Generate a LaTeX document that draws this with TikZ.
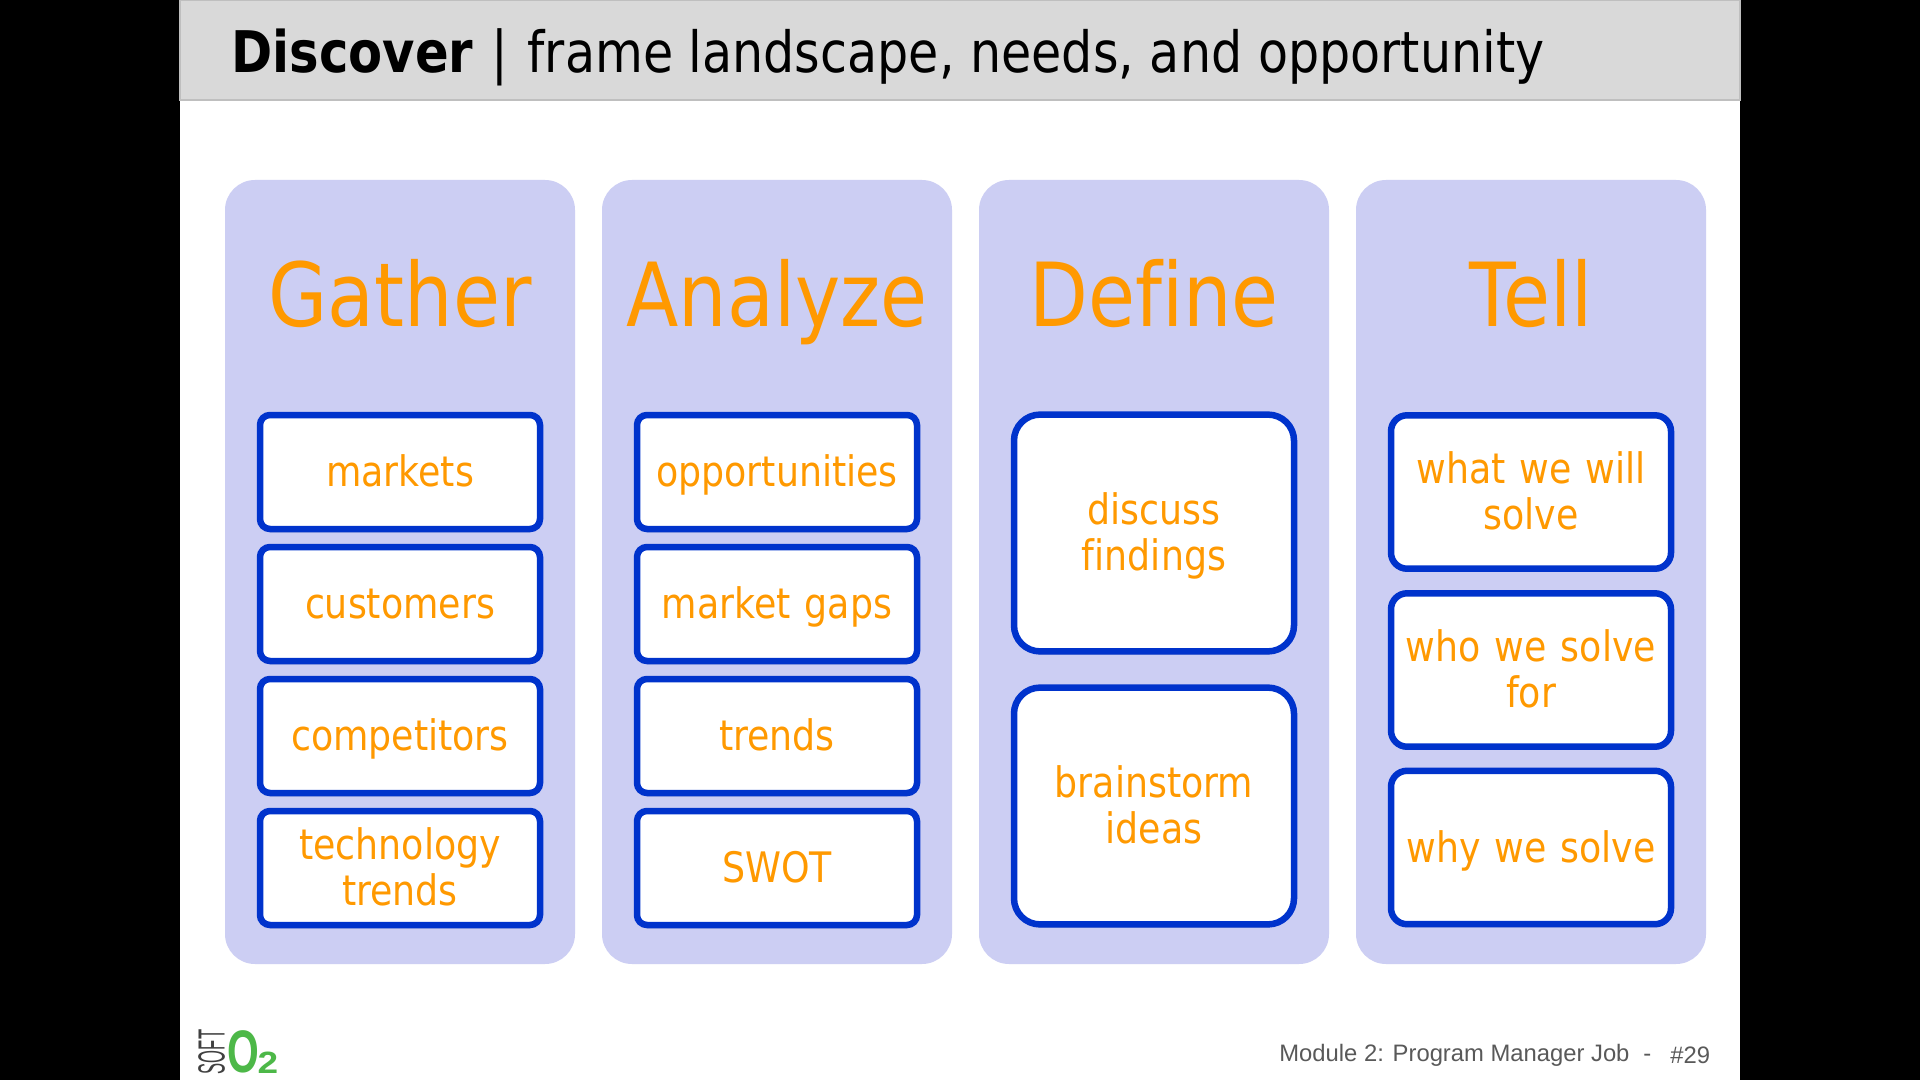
\documentclass[tikz,border=0pt]{standalone}
\usepackage{xcolor}
\usepackage{fontspec}
\usetikzlibrary{shadows}
\setmainfont{DejaVu Sans}[FakeStretch=0.865,Ligatures=NoCommon]
\newfontfamily\footfont{Liberation Sans}
\definecolor{panelblue}{HTML}{CCCEF3}
\definecolor{cardblue}{HTML}{0033CC}
\definecolor{textorange}{HTML}{FF9900}
\definecolor{bargray}{HTML}{D9D9D9}
\definecolor{barline}{HTML}{BFBFBF}
\definecolor{logogreen}{HTML}{4DB848}
\definecolor{logogray}{HTML}{404040}
\definecolor{footgray}{HTML}{595959}

\begin{document}
\begin{tikzpicture}[x=0.5pt,y=-0.5pt,
            panel/.style={rectangle,rounded corners=15pt,fill=panelblue,minimum width=175pt,minimum height=392pt,inner sep=0pt},
            heading/.style={anchor=base,text=textorange,font=\fontsize{44.2}{50}\selectfont,inner sep=0pt},
            card/.style={rectangle,draw=cardblue,line width=3.25pt,fill=white,text=textorange,
                align=center,text width=136pt,inner sep=0pt,outer sep=0pt,minimum width=140pt,
                font=\fontsize{21}{23.2}\selectfont,
                execute at begin node={\rule{0pt}{21.5pt}},execute at end node=\strut,
                drop shadow={shadow xshift=0pt,shadow yshift=-1.5pt,opacity=0.3,fill=black}},
            small/.style={card,rounded corners=5pt,minimum height=57pt},
            mid/.style={card,rounded corners=8pt,minimum height=76.7pt},
            big/.style={card,rounded corners=13pt,minimum height=118.4pt},
            foot/.style={anchor=base west,inner sep=0pt,text=footgray,font=\footfont\fontsize{11.9}{15}\selectfont}
        ]
            % Page and title bar
            \useasboundingbox (0,0) rectangle (1920,1080);
            \fill[black] (0,0) rectangle (1920,1080);
            \fill[white] (180,0) rectangle (1740,1080);
            \filldraw[fill=bargray,draw=barline,line width=0.75pt] (180,0) rectangle (1740,100);
            \node[anchor=base west,inner sep=0pt] (title) at (231,73)
                {\fontsize{28.7}{34}\selectfont\textbf{Discover}\hspace{1pt} | \hspace{2pt}\fontsize{28.4}{34}\selectfont frame landscape, needs, and opportunity};

            % Panels and headings
            \foreach \name/\x/\txt in {P1/400/Gather,P2/777/Analyze,P3/1154/Define,P4/1531/Tell} {
                \node[panel] (\name) at (\x,572) {};
                \node[heading] (H\name) at (\x,327) {\txt};
            }

            % Gather
            \foreach \i/\y/\txt in {1/472/markets,2/604/customers,3/736/competitors,4/868/{technology\\trends}}
                \node[small] (G\i) at (400,\y) {\txt};

            % Analyze
            \foreach \i/\y/\txt in {1/472/opportunities,2/604/market gaps,3/736/trends,4/868/SWOT}
                \node[small] (A\i) at (777,\y) {\txt};

            % Define
            \foreach \i/\y/\txt in {1/533/{discuss\\findings},2/806/{brainstorm\\ideas}}
                \node[big] (D\i) at (1154,\y) {\txt};

            % Tell
            \foreach \i/\y/\txt in {1/492/{what we will\\solve},2/670/{who we solve\\for},3/847.5/why we solve}
                \node[mid] (T\i) at (1531,\y) {\txt};

            % Logo and footer
            \node[rotate=90,inner sep=0pt,text=logogray,font=\footfont\fontsize{18.9}{19}\selectfont] (soft) at (211.5,1052) {\scalebox{0.44}[1]{SOFT}};
            \node[inner sep=0pt,text=logogreen,font=\footfont\bfseries\fontsize{30}{30}\selectfont] (oxy) at (243,1052) {\scalebox{0.68}[1]{O}};
            \node[inner sep=0pt,text=logogreen,font=\footfont\bfseries\fontsize{15.4}{15.4}\selectfont] (two) at (268,1063) {\scalebox{1.2}[1]{2}};
            \node[foot] (module) at (1279,1061) {Module 2: Program Manager Job};
            \node[foot] (dash) at (1643,1061) {-};
            \node[foot] (num) at (1670,1063) {\#29};
        \end{tikzpicture}
\end{document}
